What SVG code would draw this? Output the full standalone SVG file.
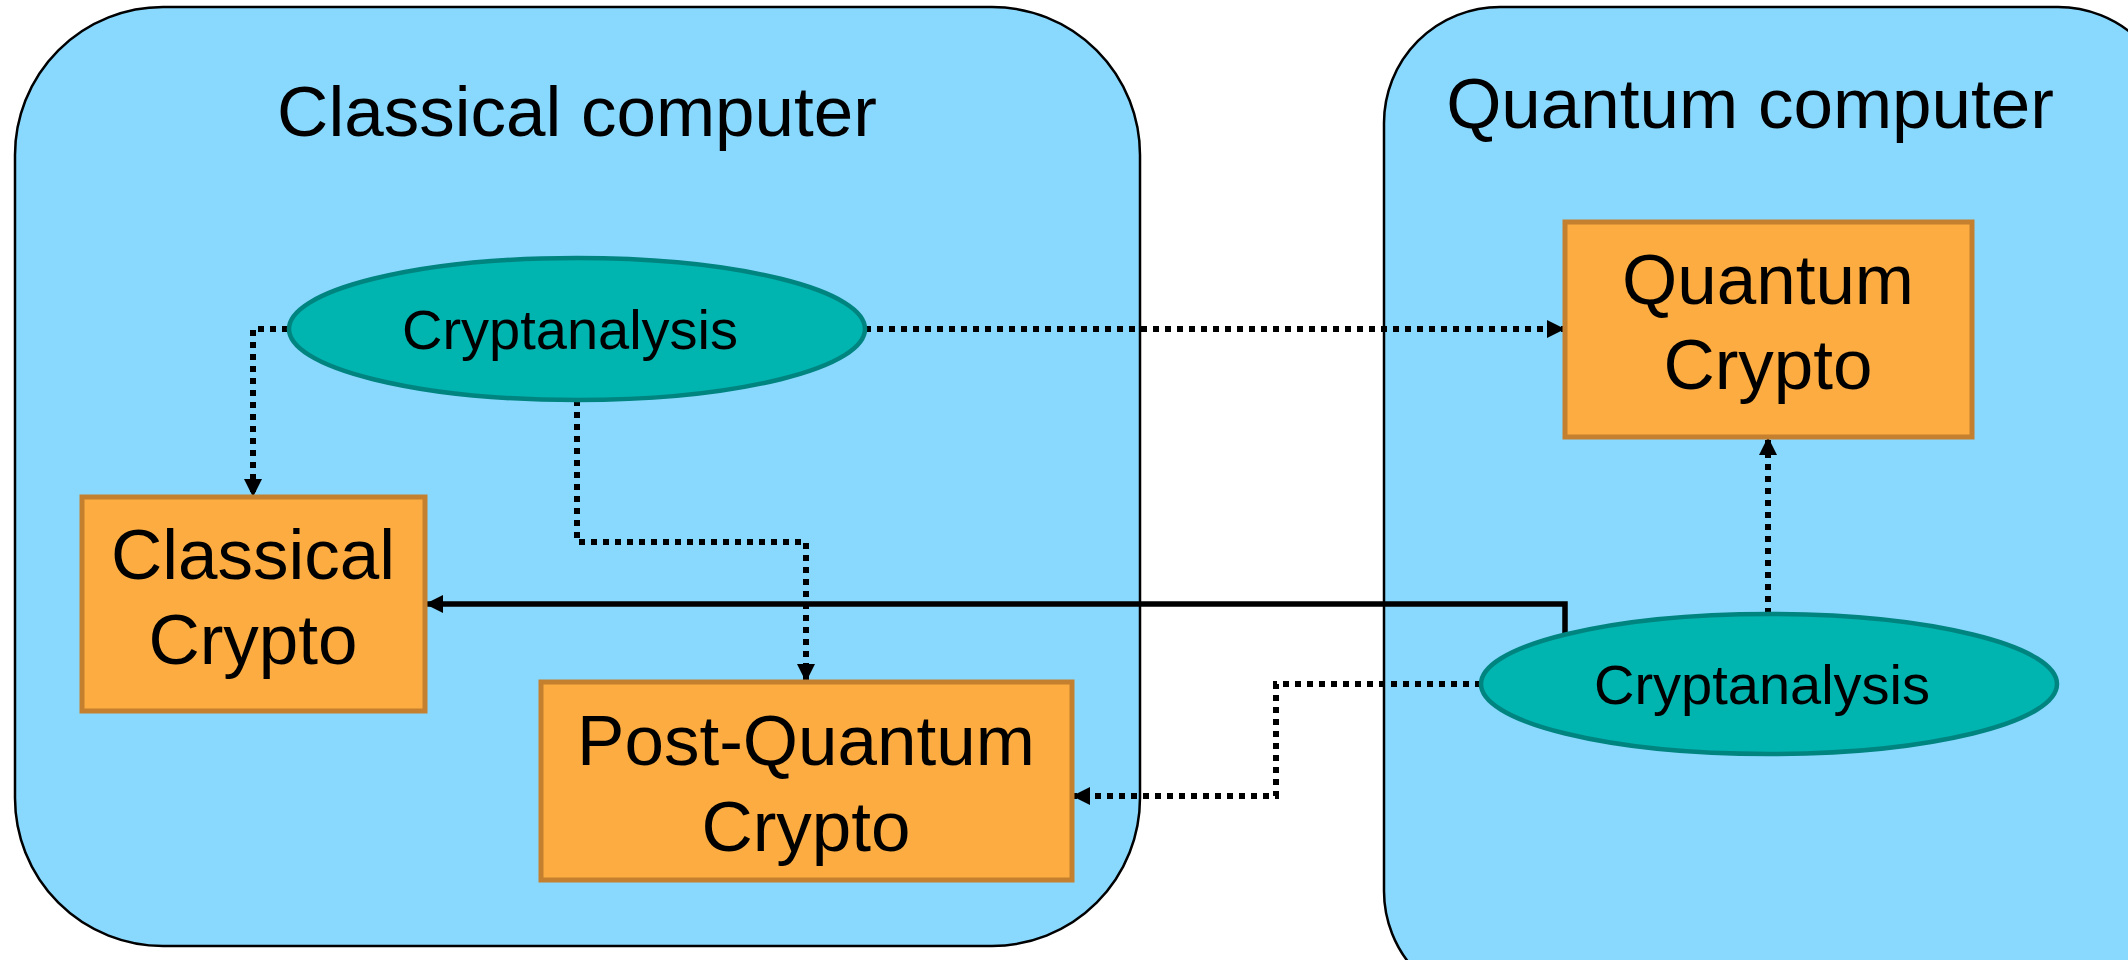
<svg xmlns="http://www.w3.org/2000/svg" width="2128" height="960" viewBox="0 0 2128 960">
  <style>
    .container { fill: #89D9FE; stroke: #000; stroke-width: 2.5; }
    .box { fill: #FCAC41; stroke: #C4802F; stroke-width: 5; }
    .oval { fill: #00B4AF; stroke: #008480; stroke-width: 4.5; }
    .title { font-family: "Liberation Sans", Arial, sans-serif; font-size: 71px; fill: #000; text-anchor: middle; }
    .label { font-family: "Liberation Sans", Arial, sans-serif; font-size: 71px; fill: #000; text-anchor: middle; }
    .small { font-family: "Liberation Sans", Arial, sans-serif; font-size: 56px; fill: #000; text-anchor: middle; }
    .dotted { fill: none; stroke: #000; stroke-width: 6; stroke-dasharray: 6 6; }
    .solid { fill: none; stroke: #000; stroke-width: 5.5; }
  </style>
  <defs>
    <marker id="arrow" viewBox="0 0 10 10" refX="10" refY="5" markerUnits="userSpaceOnUse" markerWidth="18" markerHeight="18" orient="auto">
      <path d="M0,0 L10,5 L0,10 Z" fill="#000"/>
    </marker>
  </defs>

  <rect width="2128" height="960" fill="#fff"/>

  <g id="classical-computer">
    <rect class="container" x="15" y="7" width="1125" height="939" rx="148" ry="148"/>
    <text class="title" x="577" y="136">Classical computer</text>
  </g>

  <g id="quantum-computer">
    <rect class="container" x="1384" y="7" width="790" height="1000" rx="116" ry="116"/>
    <text class="title" x="1750" y="128">Quantum computer</text>
  </g>

  <g id="connectors">
    <!-- classical cryptanalysis -> classical crypto -->
    <path class="dotted" d="M288,329 H253 V497" marker-end="url(#arrow)"/>
    <!-- classical cryptanalysis -> post-quantum crypto -->
    <path class="dotted" d="M577,400 V542 H806 V682" marker-end="url(#arrow)"/>
    <!-- classical cryptanalysis -> quantum crypto -->
    <path class="dotted" d="M865,329 H1565" marker-end="url(#arrow)"/>
    <!-- quantum cryptanalysis -> classical crypto -->
    <path class="solid" d="M1565,633 V604 H425" marker-end="url(#arrow)"/>
    <!-- quantum cryptanalysis -> post-quantum crypto -->
    <path class="dotted" d="M1481,684 H1276 V796 H1072" marker-end="url(#arrow)"/>
    <!-- quantum cryptanalysis -> quantum crypto -->
    <path class="dotted" d="M1768,614 V437" marker-end="url(#arrow)"/>
  </g>

  <g id="cryptanalysis-classical">
    <ellipse class="oval" cx="577" cy="329" rx="288" ry="71"/>
    <text class="small" x="570" y="349">Cryptanalysis</text>
  </g>

  <g id="classical-crypto">
    <rect class="box" x="82" y="497" width="343" height="214"/>
    <text class="label" x="253" y="579">Classical</text>
    <text class="label" x="253" y="664">Crypto</text>
  </g>

  <g id="post-quantum-crypto">
    <rect class="box" x="541" y="682" width="531" height="198"/>
    <text class="label" x="806" y="765">Post-Quantum</text>
    <text class="label" x="806" y="851">Crypto</text>
  </g>

  <g id="quantum-crypto">
    <rect class="box" x="1565" y="222" width="407" height="215"/>
    <text class="label" x="1768" y="304">Quantum</text>
    <text class="label" x="1768" y="389">Crypto</text>
  </g>

  <g id="cryptanalysis-quantum">
    <ellipse class="oval" cx="1769" cy="684" rx="288" ry="70"/>
    <text class="small" x="1762" y="704">Cryptanalysis</text>
  </g>
</svg>
